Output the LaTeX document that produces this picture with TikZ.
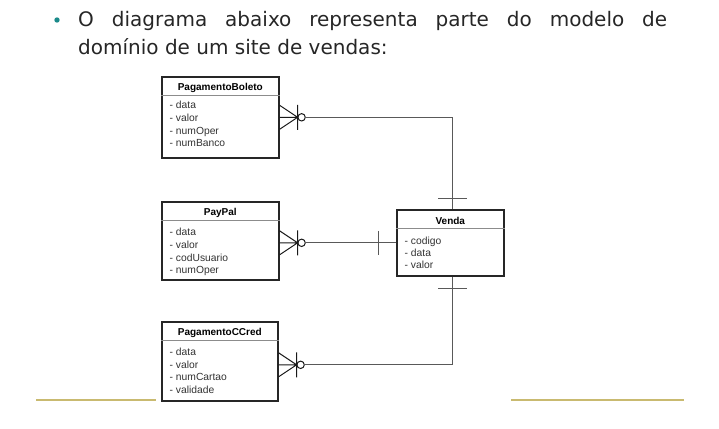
\documentclass[tikz,border=0pt]{standalone}
\usepackage{fontspec}
\setmainfont{DejaVu Sans}
\newfontfamily\umlfont{Liberation Sans}
\usetikzlibrary{positioning}

\definecolor{corMarcador}{RGB}{26,138,138}
\definecolor{corRegua}{RGB}{201,186,112}

\tikzset{
  enunciado/.style={anchor=base west, inner sep=0pt, text=black!85, font=\fontsize{20}{27}\selectfont},
  classe/.style={draw=black!85, line width=1.6pt, fill=white, anchor=north west, inner sep=0pt},
  titulo/.style={inner sep=0pt, text height=7.2pt, text depth=2pt, font=\umlfont\bfseries\fontsize{10}{12}\selectfont},
  atributo/.style={anchor=west, inner sep=0pt, text=black!80, text height=7.2pt, text depth=2pt, font=\umlfont\fontsize{10.3}{12}\selectfont},
  divisa/.style={draw=black!45, line width=1pt},
  liga/.style={draw=black!65, line width=1pt},
  pe/.style={draw=black!90, line width=1pt},
  regua/.style={draw=corRegua, line width=2.5pt},
  muitos/.pic={
    \draw[pe] (0,-12) -- (18,0) -- (0,12) (0,0) -- (18,0) (18,-12.5) -- (18,12.5);
    \draw[pe] (22,0) circle[radius=3.7];
  }
}

\begin{document}
\begin{tikzpicture}[x=1pt,y=-1pt]
\useasboundingbox (0,0) rectangle (719,428);

% enunciado
\fill[corMarcador] (57,20) circle[radius=2.7];
\node[enunciado] (linha1) at (78,27) {\makebox[589pt][s]{O diagrama abaixo representa parte do modelo de}};
\node[enunciado] (linha2) at (78,55) {domínio de um site de vendas:};

% classes
\node[classe, minimum width=117pt, minimum height=81pt] (boleto) at (161,76) {};
\node[classe, minimum width=117pt, minimum height=78pt] (paypal) at (161,201) {};
\node[classe, minimum width=116pt, minimum height=79pt] (ccred) at (161,321) {};
\node[classe, minimum width=107pt, minimum height=66pt] (venda) at (396,209) {};

\node[titulo, below=7.5pt of boleto.north] (tboleto) {PagamentoBoleto};
\node[titulo, below=7.5pt of paypal.north] (tpaypal) {PayPal};
\node[titulo, below=7.5pt of ccred.north] (tccred) {PagamentoCCred};
\node[titulo, below=8.5pt of venda.north] (tvenda) {Venda};

\foreach \c in {boleto,paypal,ccred,venda}
  \draw[divisa] ([yshift=-19.5pt]\c.north west) -- ([yshift=-19.5pt]\c.north east);

\foreach \a [count=\i] in {data,valor,numOper,numBanco}
  \node[atributo] (boleto\i) at ([xshift=8.5pt,yshift={-17.3pt-12.7pt*\i}]boleto.north west) {- \a};
\foreach \a [count=\i] in {data,valor,codUsuario,numOper}
  \node[atributo] (paypal\i) at ([xshift=8.5pt,yshift={-19.3pt-12.7pt*\i}]paypal.north west) {- \a};
\foreach \a [count=\i] in {data,valor,numCartao,validade}
  \node[atributo] (ccred\i) at ([xshift=8.5pt,yshift={-19pt-12.7pt*\i}]ccred.north west) {- \a};
\foreach \a [count=\i] in {codigo,data,valor}
  \node[atributo] (venda\i) at ([xshift=8.5pt,yshift={-20.5pt-12.2pt*\i}]venda.north west) {- \a};

% associacoes
\coordinate (pb) at (boleto.east);
\coordinate (pp) at ([yshift=-2pt]paypal.east);
\coordinate (pc) at ([yshift=-3.5pt]ccred.east);
\pic at (pb) {muitos};
\pic at (pp) {muitos};
\pic at (pc) {muitos};

\draw[liga] ([xshift=25.7pt]pb) -| ([xshift=2pt]venda.north);
\draw[liga] ([xshift=25.7pt]pp) -- (venda.west);
\draw[liga] ([xshift=25.7pt]pc) -| ([xshift=2pt]venda.south);

\draw[liga] ([xshift=-12pt,yshift=11pt]venda.north) -- ([xshift=17pt,yshift=11pt]venda.north);
\draw[liga] ([xshift=-18pt,yshift=12pt]venda.west) -- ([xshift=-18pt,yshift=-12pt]venda.west);
\draw[liga] ([xshift=-12pt,yshift=-12pt]venda.south) -- ([xshift=17pt,yshift=-12pt]venda.south);

% reguas
\draw[regua] (36,400) -- (156,400);
\draw[regua] (511,400) -- (684,400);
\end{tikzpicture}
\end{document}
